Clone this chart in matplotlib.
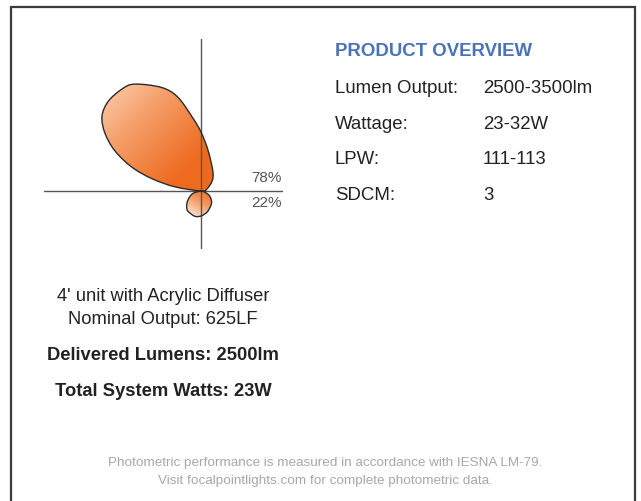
import numpy as np
import matplotlib
matplotlib.use("Agg")
import matplotlib.pyplot as plt
from matplotlib.path import Path
from matplotlib.patches import PathPatch
from matplotlib.colors import LinearSegmentedColormap

plt.rcParams['font.family'] = ['Liberation Sans', 'DejaVu Sans']

# photometric distribution (angle from the up axis, + toward left; radius in px)
upper_angles = [-80, -72, -48, -31, -10, 0, 7, 14, 21, 32, 38, 46, 53, 59, 65, 71, 76, 81]
upper_radius = [0, 6, 15, 23, 41, 59, 75, 97, 111, 126, 129, 129, 124, 112, 95, 73, 50, 26]
lower_angles = [100, 108, 125, 137, 147, 166, 180, 196, 212, 225, 240, 250]
lower_radius = [0, 9, 16, 21, 24, 26, 25, 22, 18, 15, 10, 5]
pct_labels = ["78%", "22%"]

overview_labels = ["Lumen Output:", "Wattage:", "LPW:", "SDCM:"]
overview_values = ["2500-3500lm", "23-32W", "111-113", "3"]

unit_lines = ["4' unit with Acrylic Diffuser", "Nominal Output: 625LF"]
bold_lines = ["Delivered Lumens: 2500lm", "Total System Watts: 23W"]
footer_lines = ["Photometric performance is measured in accordance with IESNA LM-79.",
                "Visit focalpointlights.com for complete photometric data."]


def lobe_path(angles, radius):
    th = np.radians(angles)
    r = np.asarray(radius, float)
    pts = np.column_stack([-r * np.sin(th), r * np.cos(th)])
    n = len(pts)
    verts = [pts[0]]
    codes = [Path.MOVETO]
    for i in range(n):
        p0, p1, p2, p3 = pts[i - 1], pts[i], pts[(i + 1) % n], pts[(i + 2) % n]
        verts += [p1 + (p2 - p0) / 6, p2 - (p3 - p1) / 6, p2]
        codes += [Path.CURVE4] * 3
    return Path(verts, codes)


W, H = 641, 502
fig = plt.figure(figsize=(W / 100, H / 100), dpi=100)
ax = fig.add_axes([0, 0, 1, 1])
ax.set_xlim(0, W)
ax.set_ylim(H, 0)
ax.axis('off')

# frame
ax.plot([11, 11, 635, 635], [H + 5, 8, 8, H + 5], color='#3a3a3a', lw=1.6,
        solid_joinstyle='miter')

# photometric axes: 1 data unit = 1 px, origin at crosshair
cx, cy = 201, 192
x0, x1, y0, y1 = -157, 82, -58, 152
pax = fig.add_axes([(cx + x0) / W, (H - cy + y0) / H, (x1 - x0) / W, (y1 - y0) / H])
pax.set_xlim(x0, x1)
pax.set_ylim(y0, y1)
pax.axis('off')
pax.axhline(0, color='#555555', lw=1.0, zorder=3)
pax.axvline(0, color='#555555', lw=1.0, zorder=3)

up_cmap = LinearSegmentedColormap.from_list('up', ['#fde3cd', '#f5a06a', '#ee6a1e'])
lo_cmap = LinearSegmentedColormap.from_list('lo', ['#ee6e24', '#f49a64', '#fbd7bf'])

gx, gy = np.meshgrid(np.linspace(x0, x1, 300), np.linspace(y0, y1, 300))

upath = lobe_path(upper_angles, upper_radius)
upatch = PathPatch(upath, facecolor='none', edgecolor='#2b2b2b', lw=1.0, zorder=4)
pax.add_patch(upatch)
g = ((gx + 105) - (gy - 130)) / 200.0
im = pax.imshow(np.clip(g, 0, 1), extent=(x0, x1, y0, y1), origin='lower',
                cmap=up_cmap, vmin=0, vmax=1, zorder=2, aspect='auto')
im.set_clip_path(upatch)

lpath = lobe_path(lower_angles, lower_radius)
lpatch = PathPatch(lpath, facecolor='none', edgecolor='#2b2b2b', lw=1.0, zorder=4)
pax.add_patch(lpatch)
g2 = ((-gy) + (-(gx - 8)) * 0.6) / 32.0
im2 = pax.imshow(np.clip(g2, 0, 1), extent=(x0, x1, y0, y1), origin='lower',
                 cmap=lo_cmap, vmin=0, vmax=1, zorder=2, aspect='auto')
im2.set_clip_path(lpatch)

# percentage labels
ax.text(282, 182.5, pct_labels[0], ha='right', va='baseline', fontsize=11,
        color='#555555')
ax.text(282, 207, pct_labels[1], ha='right', va='baseline', fontsize=11,
        color='#555555')

# product overview
ax.text(335, 56, "PRODUCT OVERVIEW", ha='left', va='baseline', fontsize=13.4,
        fontweight='bold', color='#4a72b8')
for i, (lab, val) in enumerate(zip(overview_labels, overview_values)):
    yb = 92.7 + i * 35.9
    ax.text(335, yb, lab, ha='left', va='baseline', fontsize=13.4, color='#222222')
    ax.text(483, yb, val, ha='left', va='baseline', fontsize=13.4, color='#222222')

# unit description
ax.text(163, 301, unit_lines[0], ha='center', va='baseline', fontsize=13.2, color='#222222')
ax.text(163, 324, unit_lines[1], ha='center', va='baseline', fontsize=13.2, color='#222222')
ax.text(163, 360.5, bold_lines[0], ha='center', va='baseline', fontsize=13.2,
        fontweight='bold', color='#222222')
ax.text(163, 396, bold_lines[1], ha='center', va='baseline', fontsize=13.2,
        fontweight='bold', color='#222222')

# footer
ax.text(325, 466, footer_lines[0], ha='center', va='baseline', fontsize=9.7, color='#a8a8a8')
ax.text(325, 484, footer_lines[1], ha='center', va='baseline', fontsize=9.7, color='#a8a8a8')

fig.savefig('out.png', dpi=100, facecolor='white')
